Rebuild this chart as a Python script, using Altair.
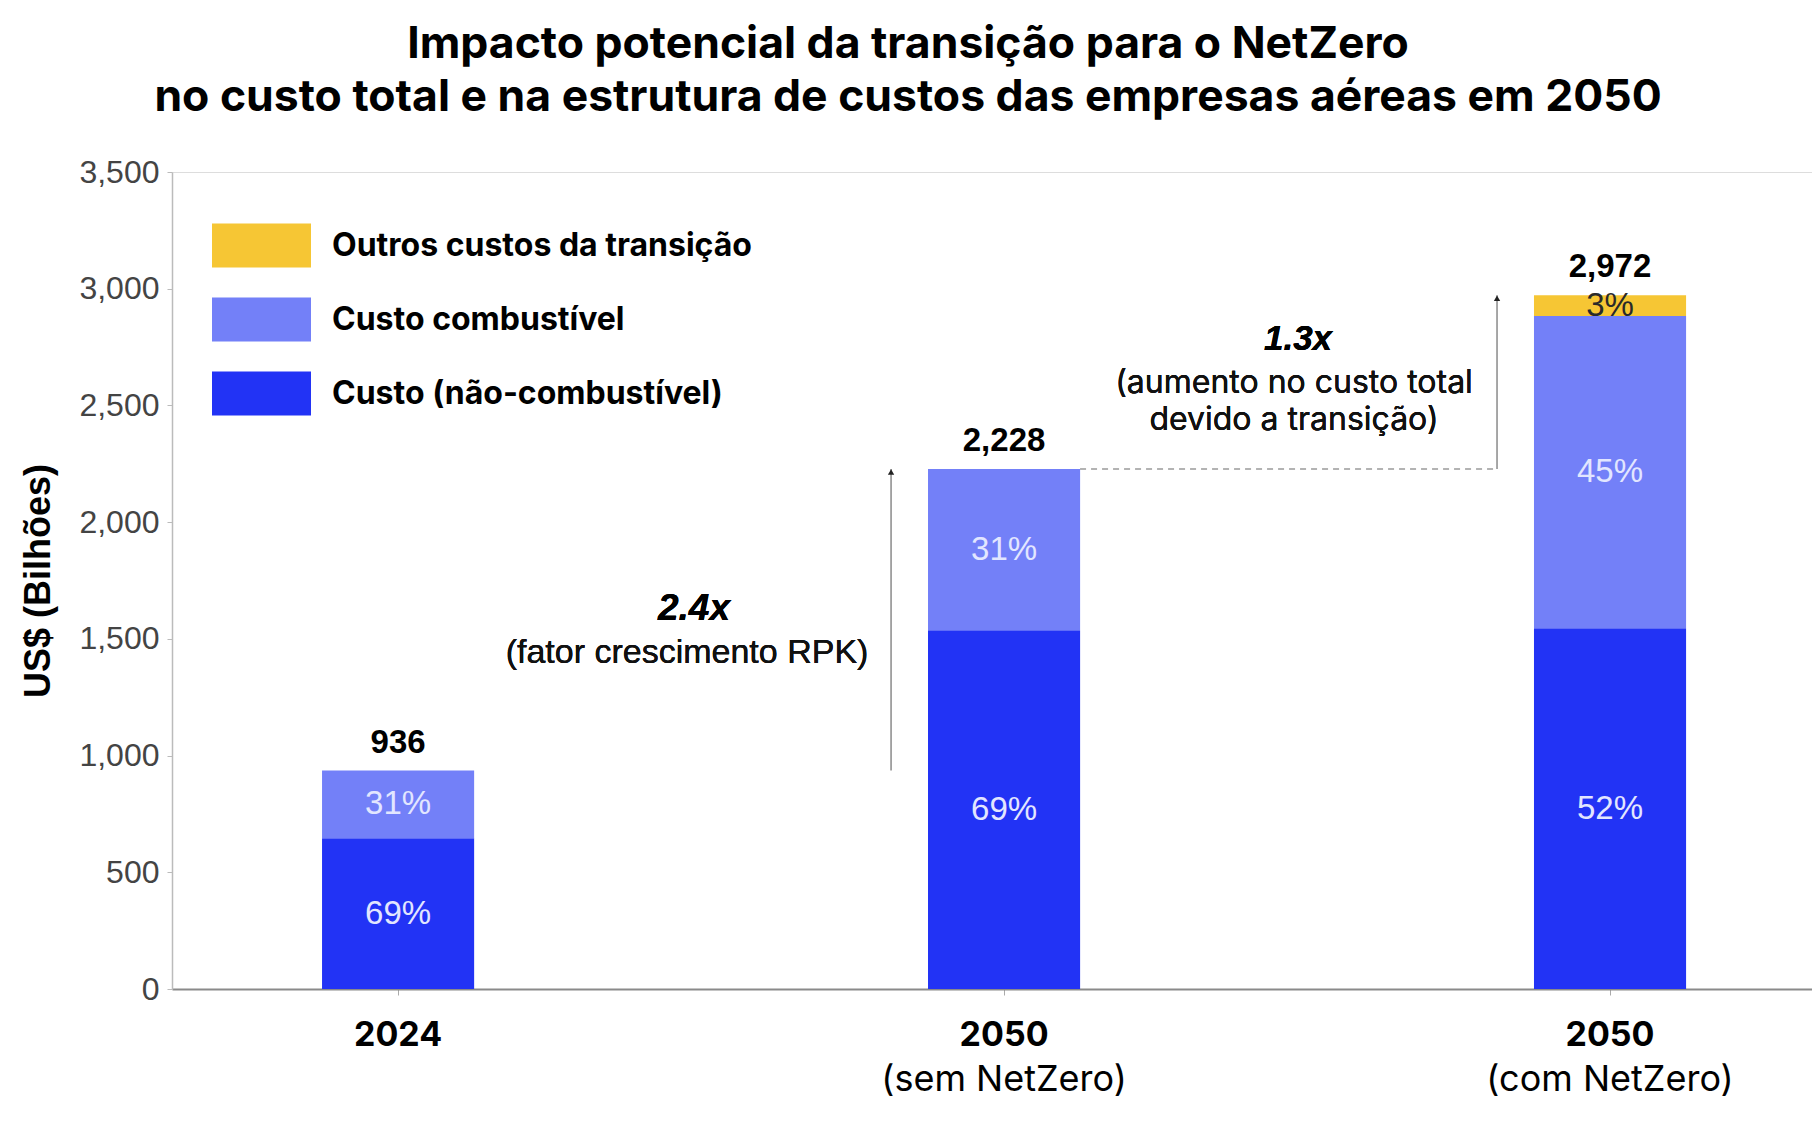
import altair as alt
import pandas as pd

# ---- data ----
categories = ["2024", "2050 (sem NetZero)", "2050 (com NetZero)"]
subtitles = ["", "(sem NetZero)", "(com NetZero)"]
series = ["Custo (não-combustível)", "Custo combustível", "Outros custos da transição"]
non_fuel = [646, 1537, 1545]
fuel = [290, 691, 1338]
other = [0, 0, 89]
non_fuel_pct = ["69%", "69%", "52%"]
fuel_pct = ["31%", "31%", "45%"]
other_pct = ["", "", "3%"]
totals = [936, 2228, 2972]
total_labels = ["936", "2,228", "2,972"]
y_ticks = [0, 500, 1000, 1500, 2000, 2500, 3000, 3500]
colors = ["#F6C634", "#7380F8", "#2233F5"]  # other, fuel, non-fuel

rows = []
for i, c in enumerate(categories):
    for rank, (s, v, p) in enumerate(zip(series, [non_fuel[i], fuel[i], other[i]],
                                         [non_fuel_pct[i], fuel_pct[i], other_pct[i]])):
        if v > 0:
            rows.append({"cat": c, "series": s, "value": v, "pct": p, "rank": rank})
df = pd.DataFrame(rows)

tot_df = pd.DataFrame({"cat": categories, "total": totals, "label": total_labels,
                       "sub": subtitles})

arrow_df = pd.DataFrame({"cat": [categories[1], categories[2]],
                         "y0": [totals[0], totals[1]],
                         "y1": [totals[1], totals[2]]})
dash_df = pd.DataFrame({"c1": [categories[1]], "c2": [categories[2]], "y": [totals[1]]})

W, H = 1640, 817
x_scale = alt.Scale(domain=categories, paddingInner=0.749, paddingOuter=0.2277, align=0.5437)
y_scale = alt.Scale(domain=[0, 3500], nice=False)

x_axis = alt.Axis(title=None, labelExpr="split(datum.label, ' ')[0]", labelAngle=0,
                  labelFont="Inter", labelFontSize=34, labelFontWeight="bold",
                  labelColor="#000", labelPadding=23, tickSize=6, tickColor="#aaa",
                  domainColor="#8a8a8a", domainWidth=2)
y_axis = alt.Axis(values=y_ticks, format=",d", grid=False, title="US$ (Bilhões)",
                  titleFont="Liberation Sans", titleFontSize=36, titleFontWeight="bold",
                  titleColor="#000", titlePadding=21,
                  labelFont="Liberation Sans", labelFontSize=32, labelColor="#444",
                  labelPadding=8, tickSize=5, tickColor="#bbb", domainColor="#bbb",
                  domainWidth=1.5)

base = alt.Chart(df)

bars = base.mark_bar().encode(
    x=alt.X("cat:N", scale=x_scale, axis=x_axis, sort=categories),
    y=alt.Y("value:Q", stack="zero", scale=y_scale, axis=y_axis),
    color=alt.Color("series:N",
                    scale=alt.Scale(domain=[series[2], series[1], series[0]], range=colors),
                    legend=alt.Legend(orient="none", legendX=40, legendY=24, title=None,
                                      symbolType="M-1,-0.444H1V0.444H-1Z",
                                      symbolSize=9801, symbolStrokeWidth=0,
                                      symbolOpacity=1,
                                      labelFont="Inter", labelFontSize=32,
                                      labelFontWeight="bold", labelColor="#000",
                                      labelLimit=800,
                                      labelOffset=21, rowPadding=2)),
    order=alt.Order("rank:Q", sort="ascending"),
)

pct_text = base.transform_stack(
    stack="value", groupby=["cat"], as_=["v0", "v1"],
    sort=[alt.SortField("rank", order="ascending")]
).transform_calculate(mid="(datum.v0 + datum.v1) / 2").mark_text(
    font="Liberation Sans", fontSize=33, baseline="middle", align="center"
).encode(
    x=alt.X("cat:N", scale=x_scale, sort=categories),
    y=alt.Y("mid:Q", scale=y_scale),
    text="pct:N",
    color=alt.condition("datum.rank == 2", alt.value("#2a2a2a"), alt.value("#E2E6FF")),
)

tot_text = alt.Chart(tot_df).mark_text(
    font="Liberation Sans", fontSize=33, fontWeight="bold", dy=-28, baseline="middle",
    color="#000"
).encode(
    x=alt.X("cat:N", scale=x_scale, sort=categories),
    y=alt.Y("total:Q", scale=y_scale),
    text="label:N",
)

sub_text = alt.Chart(tot_df).mark_text(
    font="Inter", fontSize=36, baseline="middle", color="#000"
).encode(
    x=alt.X("cat:N", scale=x_scale, sort=categories),
    y=alt.value(H + 91),
    text="sub:N",
)

arrows = alt.Chart(arrow_df).mark_rule(xOffset=-113, color="#8a8a8a", strokeWidth=1.5).encode(
    x=alt.X("cat:N", scale=x_scale, sort=categories),
    y=alt.Y("y0:Q", scale=y_scale),
    y2="y1:Q",
)
heads = alt.Chart(arrow_df).mark_point(shape="triangle-up", filled=True, size=40,
                                       xOffset=-113, yOffset=3, color="#222", opacity=1).encode(
    x=alt.X("cat:N", scale=x_scale, sort=categories),
    y=alt.Y("y1:Q", scale=y_scale),
)
dash = alt.Chart(dash_df).mark_rule(xOffset=76, x2Offset=-113, strokeDash=[6, 5],
                                    color="#9a9a9a", strokeWidth=1.5).encode(
    x=alt.X("c1:N", scale=x_scale, sort=categories),
    x2="c2:N",
    y=alt.Y("y:Q", scale=y_scale),
)

ann1a = alt.Chart(tot_df).mark_text(text="2.4x", font="Liberation Sans", fontSize=37,
                                    fontWeight="bold", fontStyle="italic", color="#000").encode(
    x=alt.value(522), y=alt.value(437))
ann1b = alt.Chart(tot_df).mark_text(text="(fator crescimento  RPK)", font="Liberation Sans",
                                    fontSize=34, color="#111").encode(
    x=alt.value(515), y=alt.value(481))
ann2a = alt.Chart(tot_df).mark_text(text="1.3x", font="Liberation Sans", fontSize=35,
                                    fontWeight="bold", fontStyle="italic", color="#000").encode(
    x=alt.value(1126), y=alt.value(167))
ann2b = alt.Chart(tot_df).mark_text(text=["(aumento no custo total", "devido a transição)"],
                                    font="Inter", fontSize=32, lineHeight=37,
                                    baseline="middle", color="#111").encode(
    x=alt.value(1122), y=alt.value(211))

chart = alt.layer(
    bars, pct_text, tot_text, sub_text, arrows, heads, dash, ann1a, ann1b, ann2a, ann2b
).properties(
    width=W, height=H,
    title=alt.TitleParams(
        text=["Impacto potencial da transição para o NetZero",
              "no custo total e na estrutura de custos das empresas aéreas em 2050"],
        font="Inter", fontSize=44.5, fontWeight="bold", color="#000", anchor="middle",
        frame="group", dx=-84, lineHeight=53, offset=36),
    autosize=alt.AutoSizeParams(type="none"),
    padding={"left": 164, "top": 164, "right": 0, "bottom": 128},
).configure_view(stroke=None).configure(background="white")

chart.save("out.html", embed_options={"renderer": "svg", "actions": False})
